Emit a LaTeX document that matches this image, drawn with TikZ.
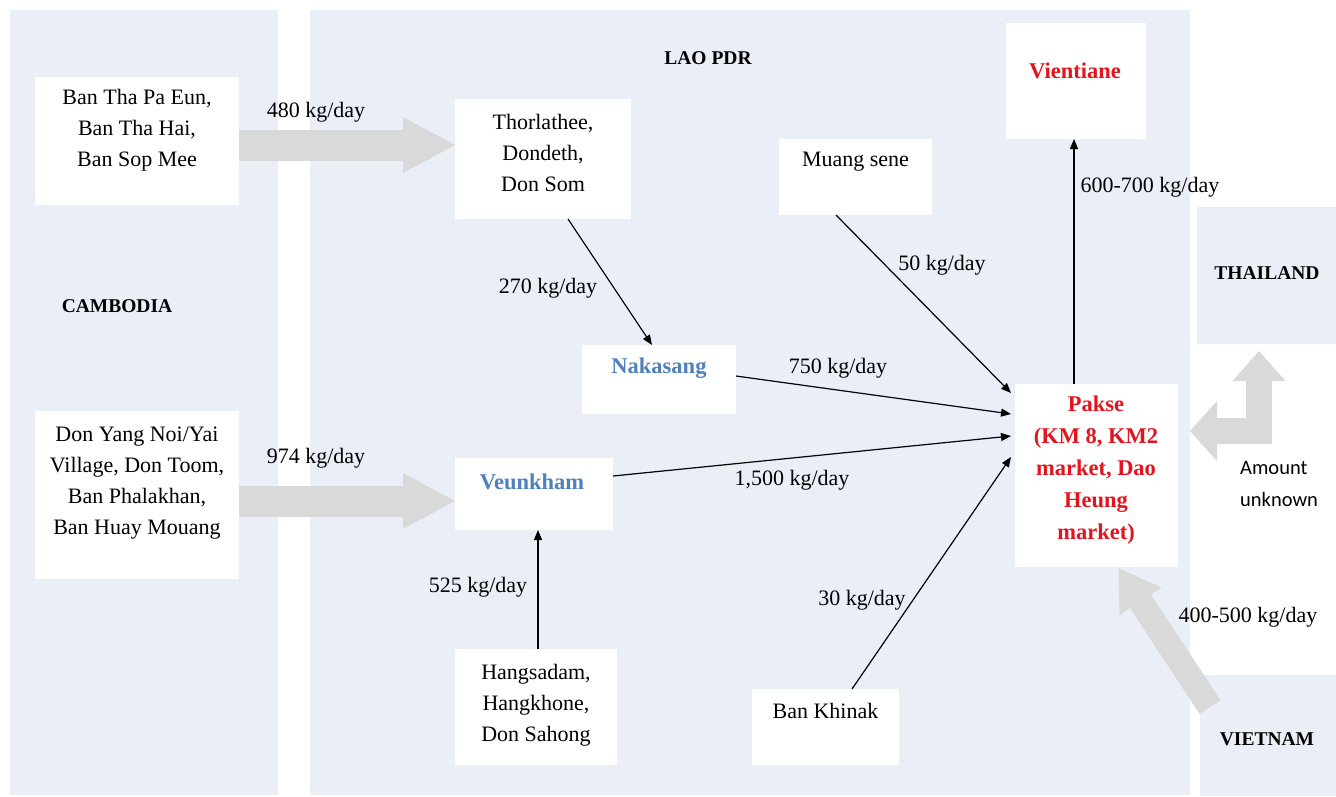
\documentclass[tikz,border=0pt]{standalone}
\usepackage{fontspec}
\setmainfont{Liberation Serif}
\newfontfamily\calib{Carlito}
\usetikzlibrary{arrows.meta}
\definecolor{panel}{HTML}{EAEFF7}
\definecolor{greyarr}{HTML}{D9D9D9}
\definecolor{pred}{HTML}{E3141E}
\definecolor{pblue}{HTML}{4F81BD}
\begin{document}
\begin{tikzpicture}[x=1pt,y=-1pt,
  panelbox/.style={fill=panel, draw=none, inner sep=0pt, outer sep=0pt},
  wbox/.style={fill=white, draw=none, inner sep=0pt, outer sep=0pt},
  txt/.style={font=\fontsize{22}{31}\selectfont, align=center, inner sep=0pt},
  country/.style={font=\fontsize{19.5}{24}\selectfont\bfseries, inner sep=0pt},
  redtxt/.style={font=\fontsize{22.5}{32}\selectfont\bfseries, text=pred, align=center, inner sep=0pt},
  bluetxt/.style={font=\fontsize{22.5}{32}\selectfont\bfseries, text=pblue, inner sep=0pt},
  flow/.style={draw=black, line width=1.2pt, -{Triangle[length=10pt,width=8pt]}},
  bigarr/.style={draw=greyarr, line width=31pt, -{Triangle[length=52pt,width=56pt,line width=0pt]}},
]
\useasboundingbox (0,0) rectangle (1336,796);
\fill[white] (0,0) rectangle (1336,796);

% panels
\node[panelbox, minimum width=268pt, minimum height=785pt] (khpanel) at (144,402.5) {};
\node[panelbox, minimum width=880pt, minimum height=785pt] (lapanel) at (750,402.5) {};
\node[panelbox, minimum width=139pt, minimum height=137pt] (thpanel) at (1266.5,275.5) {};
\node[panelbox, minimum width=136pt, minimum height=121pt] (vnpanel) at (1268,735.5) {};

% country labels
\node[country] (lcam) at (117,306) {CAMBODIA};
\node[country] (llao) at (708,58) {LAO PDR};
\node[country] (ltha) at (1267,273) {THAILAND};
\node[country] (lvie) at (1267,739) {VIETNAM};

% white boxes
\node[wbox, minimum width=204pt, minimum height=128pt] (box1) at (137,141) {};
\node[wbox, minimum width=204pt, minimum height=168pt] (box2) at (137,495) {};
\node[wbox, minimum width=176pt, minimum height=120pt] (thor) at (543,159) {};
\node[wbox, minimum width=153pt, minimum height=76pt] (muang) at (855.5,177) {};
\node[wbox, minimum width=140pt, minimum height=116pt] (vient) at (1076,81) {};
\node[wbox, minimum width=154pt, minimum height=69pt] (naka) at (659,379.5) {};
\node[wbox, minimum width=158pt, minimum height=72pt] (veun) at (534,494) {};
\node[wbox, minimum width=163pt, minimum height=183pt] (pakse) at (1096.5,475.5) {};
\node[wbox, minimum width=162pt, minimum height=116pt] (hang) at (536,707) {};
\node[wbox, minimum width=147pt, minimum height=76pt] (khin) at (825.5,727) {};

% box texts
\node[txt] (box1t) at (137,130) {Ban Tha Pa Eun,\\Ban Tha Hai,\\Ban Sop Mee};
\node[txt] (box2t) at (137,483) {Don Yang Noi/Yai\\Village, Don Toom,\\Ban Phalakhan,\\Ban Huay Mouang};
\node[txt] (thort) at (543,153) {Thorlathee,\\Dondeth,\\Don Som};
\node[txt] (muangt) at (855.5,162) {Muang sene};
\node[redtxt] (vientt) at (1075,71) {Vientiane};
\node[bluetxt] (nakat) at (659,368) {Nakasang};
\node[bluetxt] (veunt) at (532,482) {Veunkham};
\node[redtxt] (pakset) at (1096,470) {Pakse\\(KM 8, KM2\\market, Dao\\Heung\\market)};
\node[txt] (hangt) at (536,705) {Hangsadam,\\Hangkhone,\\Don Sahong};
\node[txt] (khint) at (825.5,711) {Ban Khinak};

% grey flows
\draw[bigarr] ([yshift=-4pt]box1.east) -- ([yshift=-4pt]box1.east -| thor.west);
\draw[bigarr] ([yshift=-6pt]box2.east) -- ([yshift=-6pt]box2.east -| veun.west);
\coordinate (vtail) at (1210,707);
\draw[draw=greyarr, line width=25pt, -{Triangle[length=40pt,width=50pt,line width=0pt]}] (vtail) -- ([xshift=22pt,yshift=-1pt]pakse.south);
\coordinate (thtip) at (1259,351);
\coordinate (pktip) at (1190,431);
\draw[draw=greyarr, line width=26pt, line join=miter, {Triangle[length=30pt,width=53pt,line width=0pt]}-{Triangle[length=27pt,width=60pt,line width=0pt]}] (thtip) |- (pktip);

% black flows
\draw[flow] ([xshift=25pt]thor.south) -- ([xshift=-7pt]naka.north);
\draw[flow] ([xshift=-19.5pt]muang.south) -- ([xshift=-4pt,yshift=82.5pt]pakse.west);
\draw[flow] ([yshift=3.5pt]naka.east) -- ([xshift=-4pt,yshift=61.5pt]pakse.west);
\draw[flow] ([yshift=18pt]veun.east) -- ([xshift=-4pt,yshift=39.5pt]pakse.west);
\draw[flow] ([xshift=26.5pt]khin.north) -- ([xshift=-4pt,yshift=18.5pt]pakse.west);
\draw[flow] ([xshift=2pt]hang.north) -- ([xshift=2pt]hang.north |- veun.south);
\draw[flow] ([xshift=-22.5pt]pakse.north) -- ([xshift=-22.5pt]pakse.north |- vient.south);

% flow labels
\node[txt] (l480) at (316,112) {480 kg/day};
\node[txt] (l974) at (316,458) {974 kg/day};
\node[txt] (l270) at (548,288) {270 kg/day};
\node[txt] (l50) at (942,265) {50 kg/day};
\node[txt] (l750) at (838,368) {750 kg/day};
\node[txt] (l1500) at (792,480) {1,500 kg/day};
\node[txt] (l30) at (862,600) {30 kg/day};
\node[txt] (l525) at (478,587) {525 kg/day};
\node[txt] (l600) at (1150,187) {600-700 kg/day};
\node[txt] (l400) at (1248,617) {400-500 kg/day};
\node[font=\calib\fontsize{20.5}{32}\selectfont, align=left, inner sep=0pt, anchor=west] (lunk) at (1240,484) {Amount\\unknown};
\end{tikzpicture}
\end{document}
